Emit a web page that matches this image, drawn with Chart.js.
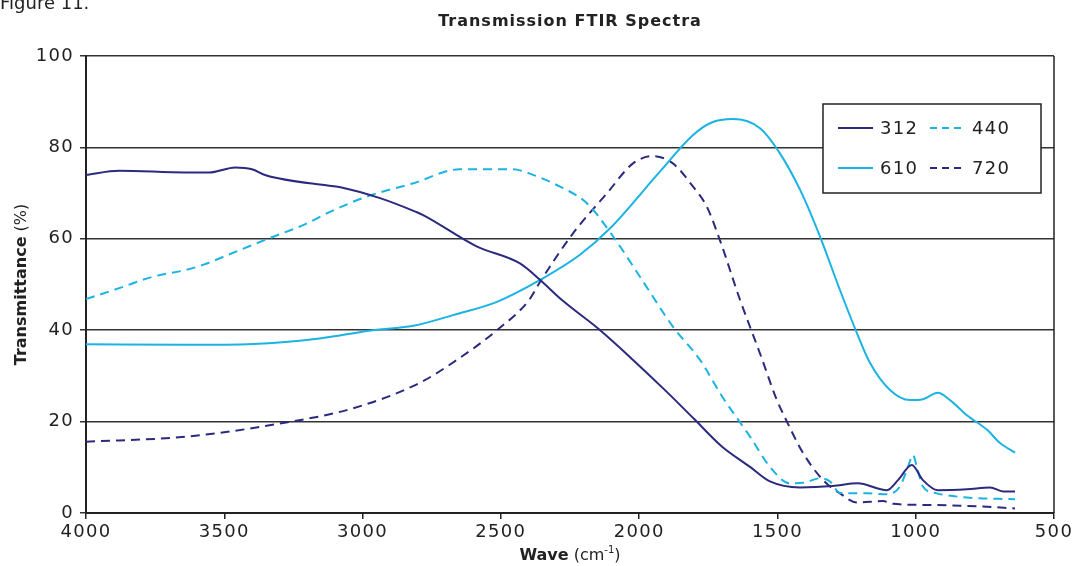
<!DOCTYPE html>
<html>
<head>
<meta charset="utf-8">
<script src="https://cdn.jsdelivr.net/npm/chart.js@4.4.1/dist/chart.umd.min.js"></script>
<style>
  html, body { margin: 0; padding: 0; background: #fff; }
  #wrap { width: 1076px; height: 566px; }
</style>
</head>
<body>
<div id="wrap"><canvas id="chart" width="1076" height="566"></canvas></div>
<script>
// wavenumbers (cm-1) and transmittance (%), one pair per sample
const wave312 = [4000, 3880, 3640, 3555, 3460, 3400, 3350, 3120, 3080, 2937, 2807, 2781, 2586, 2431, 2358, 2279, 2141, 2022, 1900, 1800, 1700, 1599, 1527, 1418, 1300, 1210, 1104, 1064, 1014, 974, 920, 815, 731, 684, 641];
const trans312 = [74.0, 74.9, 74.5, 74.5, 75.6, 75.2, 73.9, 71.6, 71.3, 68.9, 65.9, 65.2, 58.3, 54.6, 51.0, 46.6, 40.0, 33.5, 26.5, 20.5, 14.5, 10.1, 6.9, 5.6, 5.9, 6.5, 5.0, 7.2, 10.5, 7.2, 5.0, 5.2, 5.6, 4.7, 4.7];

const wave440 = [4000, 3880, 3758, 3638, 3577, 3458, 3338, 3215, 3096, 2977, 2819, 2649, 2456, 2384, 2286, 2189, 2094, 1997, 1878, 1780, 1700, 1599, 1527, 1455, 1407, 1346, 1310, 1274, 1176, 1104, 1057, 1028, 1010, 996, 974, 924, 815, 641];
const trans440 = [46.8, 49.2, 51.7, 53.2, 54.3, 57.2, 60.1, 63.0, 66.5, 69.4, 72.1, 75.2, 75.2, 74.0, 71.4, 67.8, 60.5, 51.7, 40.8, 33.5, 25.5, 16.7, 10.1, 6.5, 6.6, 7.6, 6.9, 4.4, 4.3, 4.1, 5.8, 10.1, 12.7, 10.1, 5.8, 4.3, 3.4, 3.0];

const wave610 = [4000, 3638, 3396, 3156, 2977, 2807, 2673, 2514, 2358, 2214, 2105, 1925, 1805, 1740, 1661, 1563, 1491, 1418, 1346, 1274, 1210, 1165, 1093, 1021, 974, 920, 876, 815, 742, 695, 641];
const trans610 = [36.9, 36.8, 37.0, 38.2, 39.9, 41.1, 43.3, 46.2, 51.0, 56.5, 62.3, 74.7, 82.7, 85.4, 86.2, 84.2, 78.7, 70.7, 60.5, 48.8, 39.0, 32.8, 26.9, 24.7, 24.9, 26.3, 24.7, 21.4, 18.2, 15.3, 13.2];

const wave720 = [4000, 3638, 3277, 3035, 2796, 2659, 2514, 2398, 2358, 2239, 2116, 2022, 1950, 1878, 1805, 1755, 1708, 1635, 1563, 1502, 1480, 1407, 1335, 1274, 1212, 1118, 1082, 938, 757, 641];
const trans720 = [15.6, 16.7, 19.8, 22.9, 28.4, 33.5, 40.0, 46.6, 50.6, 61.2, 70.0, 76.5, 78.1, 76.5, 71.4, 67.0, 59.7, 46.6, 34.9, 24.7, 21.8, 13.1, 7.2, 4.3, 2.3, 2.6, 2.0, 1.75, 1.4, 1.0];

const sampleLabels = ['312', '440', '610', '720'];
const xTicks = [4000, 3500, 3000, 2500, 2000, 1500, 1000, 500];
const yTicks = [0, 20, 40, 60, 80, 100];

const NAVY = '#2b2a7e';
const CYAN = '#1ab3e2';
const FONT = "'DejaVu Sans', sans-serif";

function toPoints(xs, ys) {
  return xs.map((x, i) => ({x: x, y: ys[i]}));
}

function makeSet(label, xs, ys, color, dashed) {
  return {
    label: label,
    data: toPoints(xs, ys),
    borderColor: color,
    backgroundColor: color,
    borderWidth: 2,
    borderDash: dashed ? [9, 6] : [],
    pointRadius: 0,
    showLine: true,
    cubicInterpolationMode: 'monotone',
    fill: false,
  };
}

// the numbers in the figure are set wider than DejaVu, so spread the tick labels a little
const numberSpacing = {
  id: 'numberSpacing',
  beforeDraw(chart) { chart.ctx.letterSpacing = '1.3px'; },
  afterDraw(chart) { chart.ctx.letterSpacing = '0px'; }
};

// titles, right border and the boxed 2x2 legend
const decorations = {
  id: 'decorations',
  afterDraw(chart) {
    const ctx = chart.ctx;
    const a = chart.chartArea;
    ctx.save();
    ctx.letterSpacing = '0px';

    ctx.strokeStyle = '#222';
    ctx.lineWidth = 1.5;
    ctx.beginPath();
    ctx.moveTo(a.right, a.top);
    ctx.lineTo(a.right, a.bottom);
    ctx.stroke();

    ctx.fillStyle = '#222';
    ctx.textBaseline = 'alphabetic';
    ctx.textAlign = 'left';
    ctx.font = '18px ' + FONT;
    ctx.fillText('Figure 11.', 0, 9);

    ctx.textAlign = 'center';
    ctx.font = 'bold 16px ' + FONT;
    ctx.letterSpacing = '1px';
    ctx.fillText('Transmission FTIR Spectra', (a.left + a.right) / 2, 26);
    ctx.letterSpacing = '0px';

    // x axis title, mixed weights
    const parts = [
      {t: 'Wave', f: 'bold 16px ' + FONT, dy: 0},
      {t: ' (cm', f: '16px ' + FONT, dy: 0},
      {t: '-1', f: '10px ' + FONT, dy: -7},
      {t: ')', f: '16px ' + FONT, dy: 0},
    ];
    let total = 0;
    parts.forEach(p => { ctx.font = p.f; p.w = ctx.measureText(p.t).width; total += p.w; });
    let x = (a.left + a.right) / 2 - total / 2;
    ctx.textAlign = 'left';
    parts.forEach(p => { ctx.font = p.f; ctx.fillText(p.t, x, 560 + p.dy); x += p.w; });

    // y axis title, rotated
    ctx.save();
    ctx.translate(26, (a.top + a.bottom) / 2);
    ctx.rotate(-Math.PI / 2);
    const yparts = [
      {t: 'Transmittance', f: 'bold 16px ' + FONT},
      {t: ' (%)', f: '16px ' + FONT},
    ];
    total = 0;
    yparts.forEach(p => { ctx.font = p.f; p.w = ctx.measureText(p.t).width; total += p.w; });
    x = -total / 2;
    yparts.forEach(p => { ctx.font = p.f; ctx.fillText(p.t, x, 0); x += p.w; });
    ctx.restore();

    // legend box
    const box = {x: 823, y: 104, w: 218, h: 89};
    ctx.fillStyle = '#fff';
    ctx.fillRect(box.x, box.y, box.w, box.h);
    ctx.strokeStyle = '#222';
    ctx.lineWidth = 1.5;
    ctx.strokeRect(box.x, box.y, box.w, box.h);

    ctx.font = '18px ' + FONT;
    ctx.letterSpacing = '1.3px';
    ctx.textBaseline = 'middle';
    chart.data.datasets.forEach((ds, i) => {
      const col = i % 2, row = Math.floor(i / 2);
      const lx = box.x + 15 + col * 92;
      const ly = box.y + 24 + row * 40;
      ctx.strokeStyle = ds.borderColor;
      ctx.lineWidth = 2;
      ctx.setLineDash(ds.borderDash.length ? [7, 5] : []);
      ctx.beginPath();
      ctx.moveTo(lx, ly);
      ctx.lineTo(lx + 35, ly);
      ctx.stroke();
      ctx.setLineDash([]);
      ctx.fillStyle = '#222';
      ctx.fillText(ds.label, lx + 42, ly + 1);
    });

    ctx.restore();
  }
};

new Chart(document.getElementById('chart'), {
  type: 'scatter',
  data: {
    datasets: [
      makeSet(sampleLabels[0], wave312, trans312, NAVY, false),
      makeSet(sampleLabels[1], wave440, trans440, CYAN, true),
      makeSet(sampleLabels[2], wave610, trans610, CYAN, false),
      makeSet(sampleLabels[3], wave720, trans720, NAVY, true),
    ]
  },
  options: {
    responsive: false,
    animation: false,
    devicePixelRatio: 1,
    layout: {padding: {top: 56, right: 22, left: 0, bottom: 0}},
    plugins: {
      legend: {display: false},
      tooltip: {enabled: false},
    },
    scales: {
      x: {
        type: 'linear',
        reverse: true,
        min: 500,
        max: 4000,
        afterBuildTicks: scale => { scale.ticks = xTicks.map(v => ({value: v})); },
        afterFit: scale => { scale.height = 53; },
        grid: {drawOnChartArea: false, drawTicks: true, tickLength: 6, color: '#222', lineWidth: 1.5},
        border: {color: '#222', width: 2},
        ticks: {
          color: '#222',
          font: {family: FONT, size: 18},
          padding: 3,
          autoSkip: false,
          maxRotation: 0,
          callback: value => String(value)
        },
      },
      y: {
        min: 0,
        max: 100,
        afterBuildTicks: scale => { scale.ticks = yTicks.map(v => ({value: v})); },
        afterFit: scale => { scale.width = 86; },
        grid: {color: '#333', lineWidth: 1.5, tickLength: 6},
        border: {color: '#222', width: 2},
        ticks: {color: '#222', font: {family: FONT, size: 18}, padding: 6, callback: value => String(value)},
      }
    }
  },
  plugins: [numberSpacing, decorations]
});
</script>
</body>
</html>
